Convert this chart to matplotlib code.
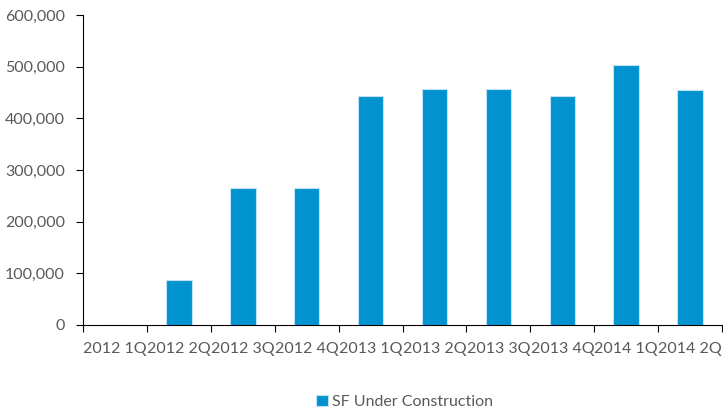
import matplotlib.pyplot as plt
import numpy as np
from matplotlib.ticker import FuncFormatter

categories = ["2012 1Q", "2012 2Q", "2012 3Q", "2012 4Q", "2013 1Q",
              "2013 2Q", "2013 3Q", "2013 4Q", "2014 1Q", "2014 2Q"]
sf_under_construction = [0, 87000, 265000, 265000, 443000,
                         457000, 457000, 443000, 503000, 455000]

plt.rcParams['font.family'] = ['Lato', 'DejaVu Sans']
grey = '#595959'

fig = plt.figure(figsize=(7.23, 4.09), dpi=100)
ax = fig.add_axes([0.1148, 0.2054, 0.884, 0.758])

x = np.arange(len(categories))
ax.bar(x, sf_under_construction, width=0.4, color='#0093D0',
       edgecolor='#BFE3F3', linewidth=0.8, label='SF Under Construction')

ax.set_xlim(-0.5, len(categories) - 0.5)
ax.set_ylim(0, 600000)
ax.set_yticks(range(0, 600001, 100000))
ax.yaxis.set_major_formatter(FuncFormatter(lambda v, p: f"{int(v):,}"))

ax.set_xticks(np.arange(-0.5, len(categories) + 0.5, 1))
ax.set_xticklabels([])
ax.set_xticks(x, minor=True)
ax.set_xticklabels(categories, minor=True)
ax.tick_params(axis='x', which='minor', length=0, pad=12, labelsize=11.5, labelcolor=grey)
ax.tick_params(axis='x', which='major', length=5, color='black')
ax.tick_params(axis='y', length=5, labelsize=11.5, labelcolor=grey, pad=8)

for s in ['top', 'right']:
    ax.spines[s].set_visible(False)
ax.spines['left'].set_color('black')
ax.spines['bottom'].set_color('black')

fig.legend(loc='lower center', bbox_to_anchor=(0.56, -0.035), frameon=False,
           fontsize=11.5, labelcolor=grey, handlelength=0.7, handleheight=0.7,
           handletextpad=0.3)

fig.savefig('out.png', dpi=100)
